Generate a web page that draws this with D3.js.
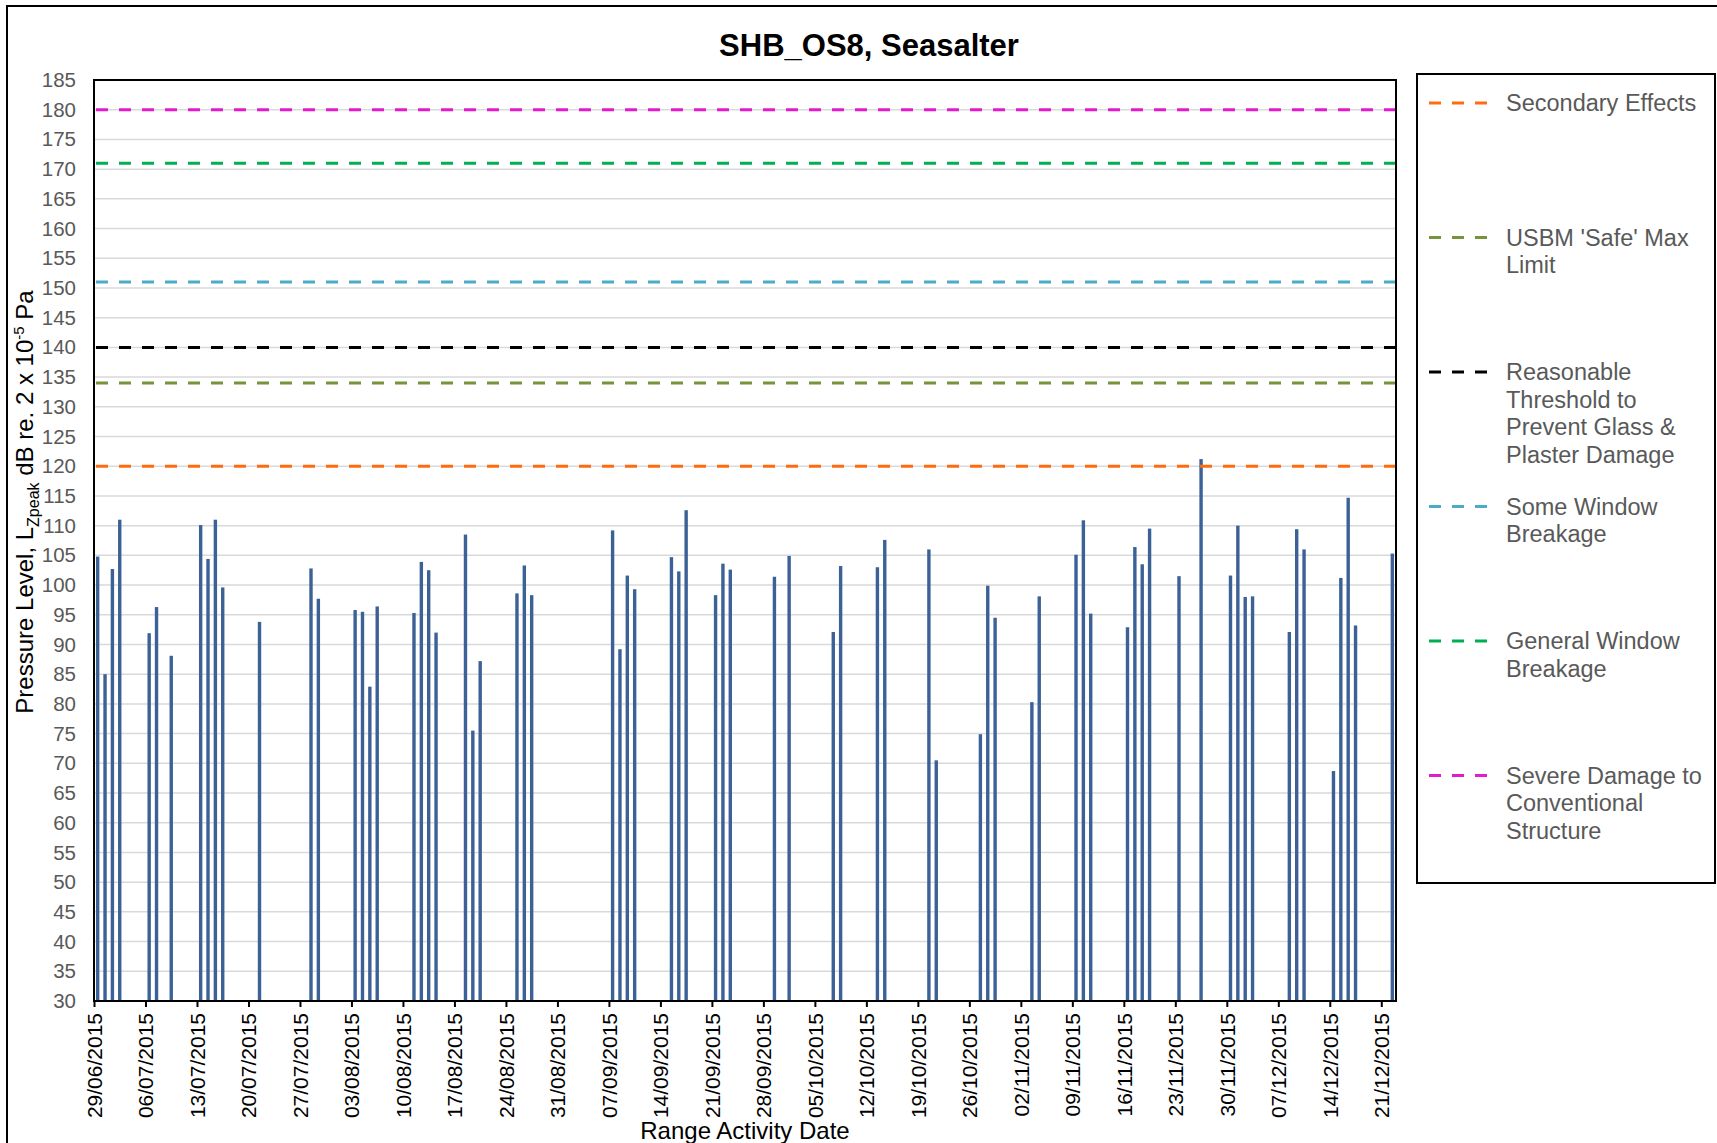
<!DOCTYPE html>
<html>
<head>
<meta charset="utf-8">
<script src="https://cdn.jsdelivr.net/npm/d3@7"></script>
<style>
  body { margin: 0; background: #fff; }
  svg { display: block; }
  text { font-family: "Liberation Sans", Arial, sans-serif; }
</style>
</head>
<body>
<svg id="chart" width="1717" height="1143"></svg>
<script>
// peak pressure level per range activity day
const eventDates = [
  '29/06/2015','30/06/2015','01/07/2015','02/07/2015','06/07/2015','07/07/2015','09/07/2015',
  '13/07/2015','14/07/2015','15/07/2015','16/07/2015','21/07/2015','28/07/2015','29/07/2015',
  '03/08/2015','04/08/2015','05/08/2015','06/08/2015','11/08/2015','12/08/2015','13/08/2015',
  '14/08/2015','18/08/2015','19/08/2015','20/08/2015','25/08/2015','26/08/2015','27/08/2015',
  '07/09/2015','08/09/2015','09/09/2015','10/09/2015','15/09/2015','16/09/2015','17/09/2015',
  '21/09/2015','22/09/2015','23/09/2015','29/09/2015','01/10/2015','07/10/2015','08/10/2015',
  '13/10/2015','14/10/2015','20/10/2015','21/10/2015','27/10/2015','28/10/2015','29/10/2015',
  '03/11/2015','04/11/2015','09/11/2015','10/11/2015','11/11/2015','16/11/2015','17/11/2015',
  '18/11/2015','19/11/2015','23/11/2015','26/11/2015','30/11/2015','01/12/2015','02/12/2015',
  '03/12/2015','08/12/2015','09/12/2015','10/12/2015','14/12/2015','15/12/2015','16/12/2015',
  '17/12/2015','22/12/2015'
];
const peakLevels = [
  104.8, 85.0, 102.7, 111.0, 91.9, 96.3, 88.1,
  110.1, 104.4, 111.0, 99.6, 93.8, 102.8, 97.7,
  95.8, 95.5, 82.9, 96.4, 95.3, 103.9, 102.5,
  92.0, 108.5, 75.5, 87.2, 98.6, 103.3, 98.3,
  109.2, 89.2, 101.6, 99.3, 104.7, 102.3, 112.6,
  98.3, 103.6, 102.6, 101.4, 104.9, 92.1, 103.2,
  103.0, 107.6, 106.0, 70.5, 74.9, 99.9, 94.5,
  80.3, 98.1, 105.1, 110.9, 95.2, 92.9, 106.4,
  103.5, 109.5, 101.5, 121.2, 101.6, 110.0, 98.0,
  98.1, 92.1, 109.4, 106.0, 68.7, 101.2, 114.7,
  93.2, 105.3
];

// damage criteria
const limitNames = [
  ['Secondary Effects'],
  ["USBM 'Safe' Max", 'Limit'],
  ['Reasonable', 'Threshold to', 'Prevent Glass &', 'Plaster Damage'],
  ['Some Window', 'Breakage'],
  ['General Window', 'Breakage'],
  ['Severe Damage to', 'Conventional', 'Structure']
];
const limitValues = [120, 134, 140, 151, 171, 180];
const limitColours = ['#ff6c10', '#77933c', '#000000', '#4bacc6', '#00b050', '#e21bcd'];

const yTicks = [30,35,40,45,50,55,60,65,70,75,80,85,90,95,100,105,110,115,120,125,
                130,135,140,145,150,155,160,165,170,175,180,185];
const axisStart = '29/06/2015';
const axisEnd = '23/12/2015';

const plotLeft = 94, plotRight = 1396, plotTop = 80, plotBottom = 1001;
const barWidth = 3.4;
const dash = '12,11';

const parse = d3.utcParse('%d/%m/%Y');
const svg = d3.select('#chart');

const x = d3.scaleUtc()
    .domain([parse(axisStart), parse(axisEnd)])
    .range([plotLeft, plotRight]);
const y = d3.scaleLinear()
    .domain([30, 185])
    .range([plotBottom, plotTop]);
const dayW = x(d3.utcDay.offset(parse(axisStart), 1)) - x(parse(axisStart));

// outer chart frame
svg.append('rect')
    .attr('x', 7).attr('y', 6)
    .attr('width', 1715).attr('height', 1200)
    .style('fill', 'none')
    .style('stroke', '#000')
    .style('stroke-width', 2);

// title
svg.append('text')
    .attr('x', 869).attr('y', 56)
    .attr('text-anchor', 'middle')
    .style('font-size', '31px')
    .style('font-weight', 'bold')
    .text('SHB_OS8, Seasalter');

// gridlines
svg.append('g')
    .selectAll('line')
    .data(yTicks.filter(v => v > 30 && v < 185))
    .enter()
    .append('line')
    .attr('x1', plotLeft).attr('x2', plotRight)
    .attr('y1', d => y(d)).attr('y2', d => y(d))
    .style('stroke', '#d9d9d9')
    .style('stroke-width', 1.5);

// bars
svg.append('g')
    .selectAll('rect')
    .data(eventDates.map((d, i) => [parse(d), peakLevels[i]]))
    .enter()
    .append('rect')
    .attr('x', d => x(d[0]) + dayW / 2 - barWidth / 2)
    .attr('y', d => y(d[1]))
    .attr('width', barWidth)
    .attr('height', d => y(30) - y(d[1]))
    .style('fill', '#3c6196');

// criteria lines
svg.append('g')
    .selectAll('line')
    .data(limitValues)
    .enter()
    .append('line')
    .attr('x1', plotLeft + 2).attr('x2', plotRight)
    .attr('y1', d => y(d)).attr('y2', d => y(d))
    .style('stroke', (_, i) => limitColours[i])
    .style('stroke-width', 3)
    .style('stroke-dasharray', dash);

// y axis
let yAxis = svg.append('g')
    .attr('transform', `translate(${plotLeft},0)`)
    .call(d3.axisLeft(y).tickValues(yTicks).tickSize(0).tickPadding(18));
yAxis.select('.domain').remove();
yAxis.selectAll('text')
    .style('font-size', '20.5px')
    .style('fill', '#595959')
    .style('font-family', '"Liberation Sans", Arial, sans-serif');

// x axis
let xAxis = svg.append('g')
    .attr('transform', `translate(0,${plotBottom})`)
    .call(d3.axisBottom(x)
        .tickValues(d3.utcMonday.range(parse(axisStart), parse(axisEnd)))
        .tickSize(6)
        .tickFormat(d3.utcFormat('%d/%m/%Y')));
xAxis.select('.domain').remove();
xAxis.selectAll('line')
    .style('stroke', '#000')
    .style('stroke-width', 2);
xAxis.selectAll('text')
    .attr('transform', 'rotate(-90)')
    .attr('text-anchor', 'end')
    .attr('x', -12)
    .attr('y', 0)
    .attr('dy', '0.35em')
    .style('font-size', '21px')
    .style('fill', '#000')
    .style('font-family', '"Liberation Sans", Arial, sans-serif');

// plot border
svg.append('rect')
    .attr('x', plotLeft).attr('y', plotTop)
    .attr('width', plotRight - plotLeft)
    .attr('height', plotBottom - plotTop)
    .style('fill', 'none')
    .style('stroke', '#000')
    .style('stroke-width', 2);

// axis titles
let yTitle = svg.append('text')
    .attr('transform', 'translate(33,502) rotate(-90)')
    .attr('text-anchor', 'middle')
    .style('font-size', '24px');
yTitle.append('tspan').text('Pressure Level, L');
yTitle.append('tspan').attr('dy', 6).style('font-size', '16px').text('Zpeak');
yTitle.append('tspan').attr('dy', -6).text(' dB re. 2 x 10');
yTitle.append('tspan').attr('dy', -9).style('font-size', '15px').text('-5');
yTitle.append('tspan').attr('dy', 9).text(' Pa');

svg.append('text')
    .attr('x', (plotLeft + plotRight) / 2).attr('y', 1139)
    .attr('text-anchor', 'middle')
    .style('font-size', '24px')
    .text('Range Activity Date');

// legend
svg.append('rect')
    .attr('x', 1417).attr('y', 74)
    .attr('width', 298).attr('height', 809)
    .style('fill', '#fff')
    .style('stroke', '#000')
    .style('stroke-width', 2);

let items = svg.append('g')
    .selectAll('g')
    .data(limitNames)
    .enter()
    .append('g')
    .attr('transform', (_, i) => `translate(0,${103 + i * 134.5})`);
items.append('line')
    .attr('x1', 1429).attr('x2', 1489)
    .attr('y1', 0).attr('y2', 0)
    .style('stroke', (_, i) => limitColours[i])
    .style('stroke-width', 3)
    .style('stroke-dasharray', dash);
items.selectAll('text')
    .data(d => d)
    .enter()
    .append('text')
    .attr('x', 1506)
    .attr('y', (_, j) => 8 + j * 27.7)
    .style('font-size', '23.5px')
    .style('fill', '#595959')
    .text(d => d);
</script>
</body>
</html>
